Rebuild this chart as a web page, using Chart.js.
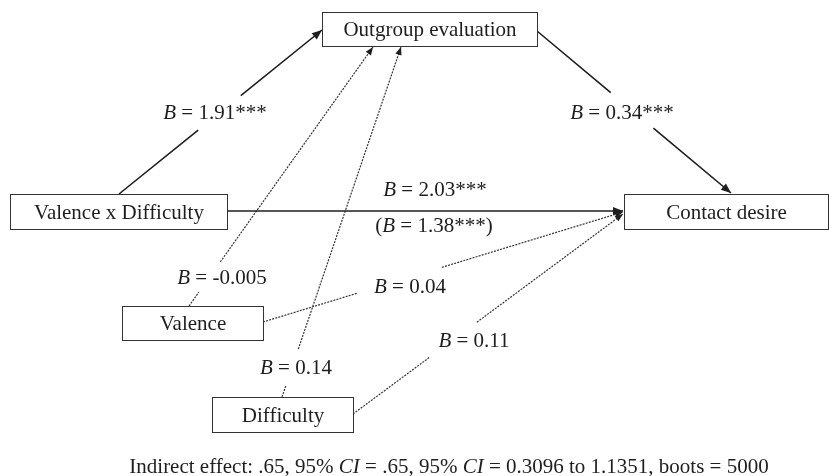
<!DOCTYPE html>
<html>
<head>
<meta charset="utf-8">
<script src="https://cdn.jsdelivr.net/npm/chart.js@4/dist/chart.umd.min.js"></script>
<style>
  body { margin: 0; background: #fff; }
  #wrap { width: 829px; height: 476px; }
</style>
</head>
<body>
<div id="wrap"><canvas id="pathChart"></canvas></div>
<script>
// Model values
const nodeLabels = ['Outgroup evaluation', 'Valence x Difficulty', 'Contact desire', 'Valence', 'Difficulty'];
const pathFrom = [1, 0, 1, 3, 3, 4, 4];
const pathTo = [0, 2, 2, 0, 2, 0, 2];
const pathB = [1.91, 0.34, 2.03, -0.005, 0.04, 0.14, 0.11];
const pathStars = ['***', '***', '***', '', '', '', ''];
const directB = 1.38;
const directStars = '***';
const indirectEffect = 0.65;
const ciLow = 0.3096;
const ciHigh = 1.1351;
const boots = 5000;

// Layout (diagram coordinates, 829 x 476 space)
const nodeBoxes = [[322, 12, 537, 46], [10, 194, 227, 229], [624, 194, 828, 229], [122, 306, 263, 340], [212, 397, 353, 432]];
const pathStart = [[119, 194], [537, 31], [227, 211], [189, 306], [263, 322], [282, 397], [353, 414]];
const pathEnd = [[322, 30], [731, 193], [623, 211], [373, 47], [623, 212], [401, 47], [623, 214]];
const pathGap = [[0.39, 0.60], [0.38, 0.60], null, [0.054, 0.17], [0.264, 0.497], [0.034, 0.137], [0.285, 0.459]];
const labelPos = [[215, 113], [622, 113], [435, 190], [222, 278], [410, 287], [296, 368], [474, 341]];
const directLabelPos = [434, 226];
const footPos = [449, 467];

const FONT = '"Liberation Serif", "Times New Roman", serif';
const INK = '#1e1e1e';

function lerp(a, b, t) {
  return { x: a[0] + (b[0] - a[0]) * t, y: a[1] + (b[1] - a[1]) * t };
}

const datasets = pathB.map((b, i) => {
  const s = pathStart[i], e = pathEnd[i], g = pathGap[i];
  let pts;
  if (g) {
    const p0 = lerp(s, e, g[0]), p1 = lerp(s, e, g[1]);
    pts = [{ x: s[0], y: s[1] }, p0, { x: p0.x, y: null }, p1, { x: e[0], y: e[1] }];
  } else {
    pts = [{ x: s[0], y: s[1] }, { x: e[0], y: e[1] }];
  }
  const solid = pathStars[i] !== '';
  return {
    label: nodeLabels[pathFrom[i]] + ' -> ' + nodeLabels[pathTo[i]],
    data: pts,
    showLine: true,
    spanGaps: false,
    pointRadius: 0,
    borderColor: solid ? INK : '#333',
    borderWidth: solid ? 1.6 : 1.2,
    borderDash: solid ? [] : [2, 1.2],
    fill: false,
  };
});

function fmtApa(v) {
  return String(v).replace(/^0\./, '.');
}

// draws text runs [text, italic] centred at cx, cy
function drawRuns(ctx, runs, cx, cy, size) {
  let total = 0;
  runs.forEach(r => {
    ctx.font = (r[1] ? 'italic ' : '') + size + 'px ' + FONT;
    total += ctx.measureText(r[0]).width;
  });
  let x = cx - total / 2;
  ctx.textAlign = 'left';
  ctx.textBaseline = 'middle';
  ctx.fillStyle = INK;
  runs.forEach(r => {
    ctx.font = (r[1] ? 'italic ' : '') + size + 'px ' + FONT;
    ctx.fillText(r[0], x, cy);
    x += ctx.measureText(r[0]).width;
  });
}

const diagramPlugin = {
  id: 'diagram',
  afterDatasetsDraw(chart) {
    const ctx = chart.ctx;
    const sx = v => chart.scales.x.getPixelForValue(v);
    const sy = v => chart.scales.y.getPixelForValue(v);
    ctx.save();

    // arrow heads
    pathB.forEach((b, i) => {
      const s = pathStart[i], e = pathEnd[i];
      const x1 = sx(e[0]), y1 = sy(e[1]);
      const ang = Math.atan2(y1 - sy(s[1]), x1 - sx(s[0]));
      const len = pathStars[i] ? 10 : 8, half = pathStars[i] ? 4 : 3.2;
      ctx.beginPath();
      ctx.moveTo(x1, y1);
      ctx.lineTo(x1 - len * Math.cos(ang) + half * Math.sin(ang), y1 - len * Math.sin(ang) - half * Math.cos(ang));
      ctx.lineTo(x1 - len * Math.cos(ang) - half * Math.sin(ang), y1 - len * Math.sin(ang) + half * Math.cos(ang));
      ctx.closePath();
      ctx.fillStyle = INK;
      ctx.fill();
    });

    // boxes
    nodeBoxes.forEach((bx, i) => {
      const x0 = Math.round(sx(bx[0])) + 0.5, y0 = Math.round(sy(bx[1])) + 0.5;
      const x1 = Math.round(sx(bx[2])) + 0.5, y1 = Math.round(sy(bx[3])) + 0.5;
      ctx.fillStyle = '#fff';
      ctx.fillRect(x0, y0, x1 - x0, y1 - y0);
      ctx.strokeStyle = '#333';
      ctx.lineWidth = 1;
      ctx.strokeRect(x0, y0, x1 - x0, y1 - y0);
      drawRuns(ctx, [[nodeLabels[i], false]], (x0 + x1) / 2, (y0 + y1) / 2 + 1, 21);
    });

    // coefficient labels
    pathB.forEach((b, i) => {
      drawRuns(ctx, [['B', true], [' = ' + String(b) + pathStars[i], false]], sx(labelPos[i][0]), sy(labelPos[i][1]), 21);
    });
    drawRuns(ctx, [['(', false], ['B', true], [' = ' + String(directB) + directStars + ')', false]],
      sx(directLabelPos[0]), sy(directLabelPos[1]), 21);

    // footnote
    const ie = fmtApa(indirectEffect);
    drawRuns(ctx, [
      ['Indirect effect: ' + ie + ', 95% ', false], ['CI', true], [' = ' + ie + ', 95% ', false], ['CI', true],
      [' = ' + ciLow + ' to ' + ciHigh + ', boots = ' + boots, false]
    ], sx(footPos[0]), sy(footPos[1]), 21);

    ctx.restore();
  }
};

new Chart(document.getElementById('pathChart').getContext('2d'), {
  type: 'scatter',
  data: { datasets: datasets },
  options: {
    responsive: true,
    maintainAspectRatio: false,
    animation: false,
    layout: { padding: 0 },
    plugins: { legend: { display: false }, tooltip: { enabled: false } },
    scales: {
      x: { type: 'linear', min: 0, max: 829, display: false },
      y: { type: 'linear', min: 0, max: 476, reverse: true, display: false },
    },
  },
  plugins: [diagramPlugin],
});
</script>
</body>
</html>
